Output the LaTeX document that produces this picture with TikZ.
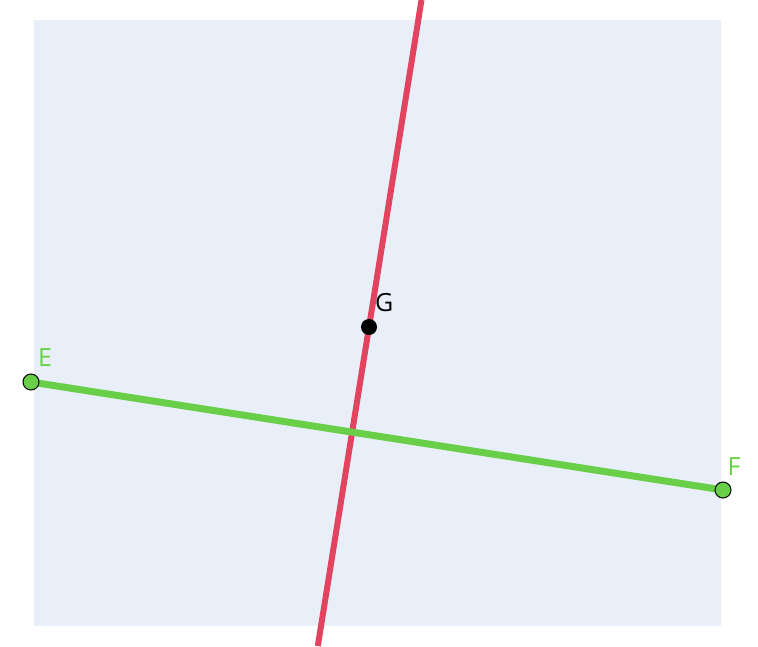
\documentclass[tikz,border=0pt]{standalone}
\usepackage{fontspec}
\setmainfont{Open Sans}
\definecolor{bgblue}{HTML}{E8EFF8}
\definecolor{lred}{HTML}{E2445F}
\definecolor{lgreen}{HTML}{6ACF48}
\begin{document}
\begin{tikzpicture}[x=1pt,y=-1pt,
  pt/.style={circle, draw=black, line width=1pt, minimum size=16pt, inner sep=0pt},
  lbl/.style={font=\fontsize{25}{25}\selectfont, inner sep=0pt, anchor=south west}]
\useasboundingbox (0,0) rectangle (758,646);
\fill[bgblue] (34,20) rectangle (721,626);
\coordinate (R1) at (421.5,0);
\coordinate (R2) at (317.8,646);
\draw[lred, line width=6pt] (R1) -- (R2);
\coordinate (Ec) at (31,382);
\coordinate (Fc) at (723,490);
\draw[lgreen, line width=7pt] (Ec) -- (Fc);
\node[pt, fill=lgreen] (E) at (Ec) {};
\node[pt, fill=lgreen] (F) at (Fc) {};
\node[circle, fill=black, minimum size=16pt, inner sep=0pt] (G) at (369,327) {};
\node[lbl, text=lgreen] (Elab) at (38,367) {E};
\node[lbl, text=lgreen] (Flab) at (727.5,476) {F};
\node[lbl, text=black] (Glab) at (375,312) {G};
\end{tikzpicture}
\end{document}
